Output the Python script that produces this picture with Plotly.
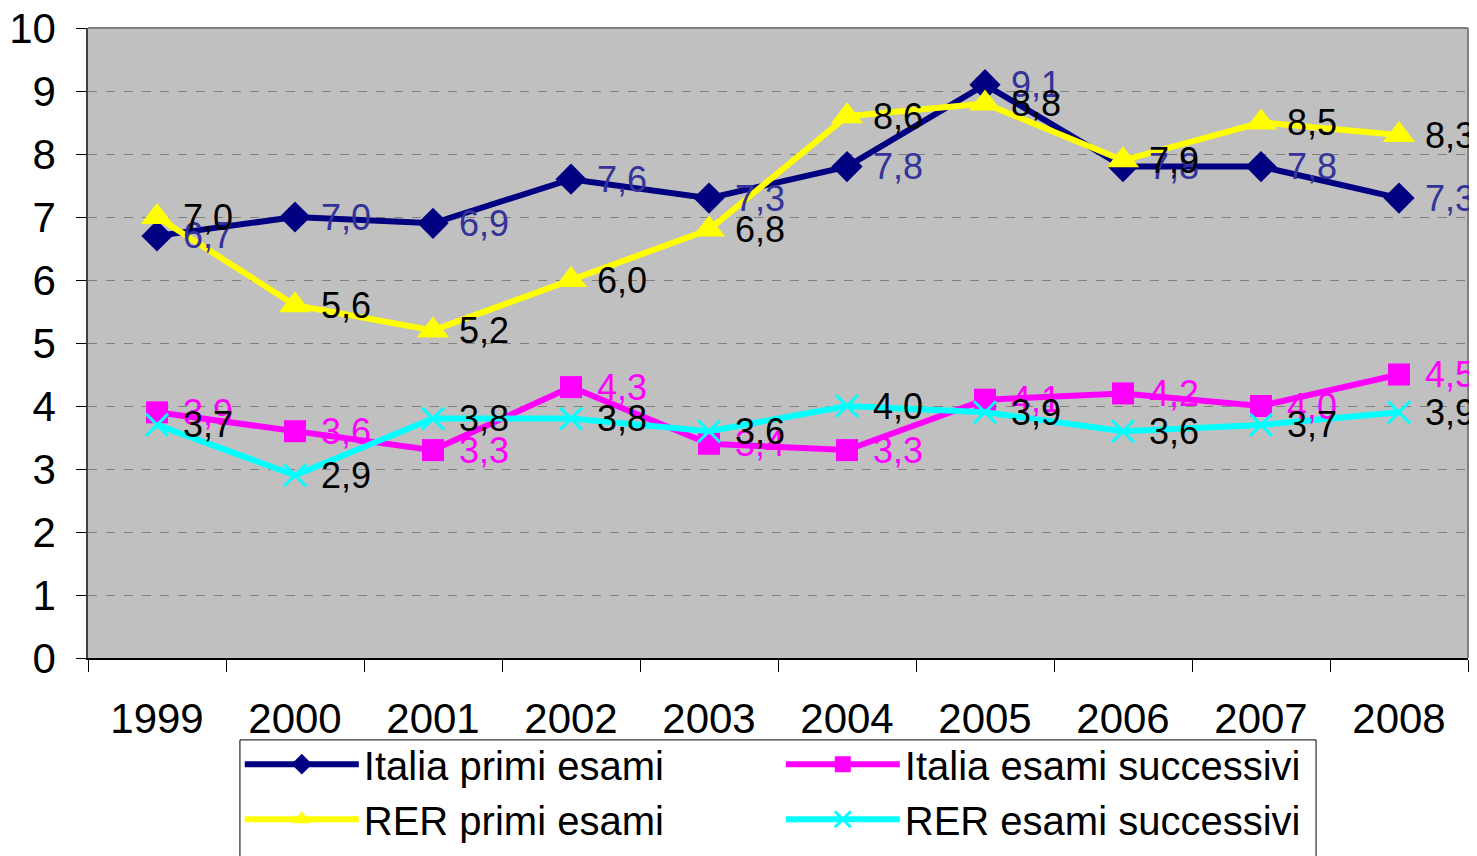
import plotly.graph_objects as go

years = ["1999", "2000", "2001", "2002", "2003", "2004", "2005", "2006", "2007", "2008"]
italia_primi = [6.7, 7.0, 6.9, 7.6, 7.3, 7.8, 9.1, 7.8, 7.8, 7.3]
italia_succ = [3.9, 3.6, 3.3, 4.3, 3.4, 3.3, 4.1, 4.2, 4.0, 4.5]
rer_primi = [7.0, 5.6, 5.2, 6.0, 6.8, 8.6, 8.8, 7.9, 8.5, 8.3]
rer_succ = [3.7, 2.9, 3.8, 3.8, 3.6, 4.0, 3.9, 3.6, 3.7, 3.9]

series = [
    ("Italia primi esami", italia_primi, "#000080", "diamond", 24, "#333399"),
    ("Italia esami successivi", italia_succ, "#FF00FF", "square", 22, "#FF00FF"),
    ("RER primi esami", rer_primi, "#FFFF00", "triangle-up", 28, "#000000"),
    ("RER esami successivi", rer_succ, "#00FFFF", "x-thin", 22, "#000000"),
]

FONT = "Liberation Sans, Arial, sans-serif"
fig = go.Figure()
annotations = []
for name, vals, color, sym, size, lblcolor in series:
    fig.add_trace(go.Scatter(
        x=years, y=vals, name=name, mode="lines+markers",
        line=dict(color=color, width=6),
        marker=dict(symbol=sym, size=size, color=color,
                    line=dict(color=color, width=3 if sym == "x-thin" else 0)),
    ))
    for i, yv in enumerate(vals):
        annotations.append(dict(
            x=i, y=yv, xref="x", yref="y", text=f"{yv:.1f}".replace(".", ","),
            showarrow=False, xanchor="left", yanchor="middle", xshift=24,
            font=dict(family=FONT, size=36, color=lblcolor),
        ))

fig.update_layout(
    width=1477, height=856,
    margin=dict(l=80, r=17, t=20, b=206, autoexpand=False),
    paper_bgcolor="white", plot_bgcolor="#C0C0C0",
    font=dict(family=FONT, size=42, color="black"),
    showlegend=True,
    legend=dict(
        orientation="h", x=0.11, y=-0.117, xanchor="left", yanchor="top",
        bgcolor="rgba(0,0,0,0)", borderwidth=0,
        font=dict(family=FONT, size=40, color="black"),
        entrywidth=412, entrywidthmode="pixels", itemwidth=114,
        traceorder="normal",
    ),
    annotations=annotations,
)
fig.update_xaxes(
    type="category", range=[-0.5, 9.5], showgrid=False,
    ticks="outside", tickson="boundaries", ticklen=12, tickcolor="black",
    showline=True, linecolor="black", linewidth=1.5, automargin=False,
    ticklabelstandoff=23, tickfont=dict(size=42), ticklabeloverflow="allow",
)
fig.update_yaxes(
    range=[0, 10], dtick=1, showgrid=True, gridcolor="#808080",
    griddash="dash", gridwidth=1, ticks="outside", ticklen=10,
    tickcolor="black", showline=True, linecolor="#404040", linewidth=1.5,
    ticklabelstandoff=12, tickfont=dict(size=42), zeroline=False,
    automargin=False, ticklabeloverflow="allow",
)
fig.add_shape(type="line", xref="paper", yref="paper", x0=0, x1=1, y0=1, y1=1,
              line=dict(color="#808080", width=2))
fig.add_shape(type="line", xref="paper", yref="paper", x0=1, x1=1, y0=0, y1=1,
              line=dict(color="#808080", width=2))
# legend frame
fig.add_shape(type="rect", xref="paper", yref="paper",
              x0=0.1101, x1=0.8899, y0=-0.13, y1=-0.36,
              fillcolor="white", line=dict(color="black", width=1), layer="below")

fig.write_html("out.html")
